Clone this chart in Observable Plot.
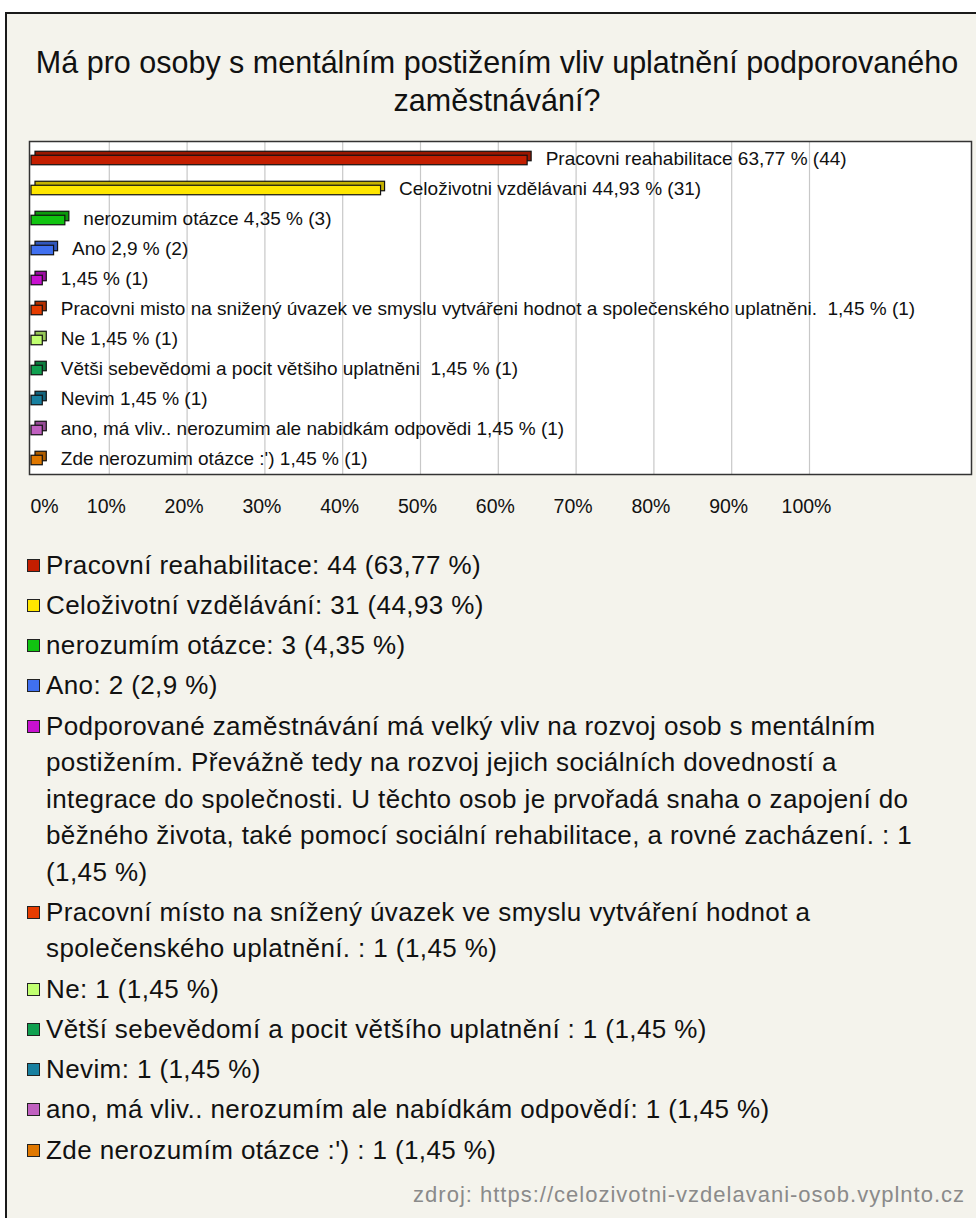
<!DOCTYPE html>
<html><head><meta charset="utf-8">
<script src="https://cdn.jsdelivr.net/npm/d3@7"></script>
<script src="https://cdn.jsdelivr.net/npm/@observablehq/plot@0.6"></script>
<style>
html,body{margin:0;padding:0;background:#fff;}
body{width:976px;height:1218px;overflow:hidden;position:relative;font-family:"Liberation Sans",Arial,sans-serif;color:#111;}
#frame{position:absolute;left:5px;top:12px;width:990px;height:1230px;border:2px solid #1a1a1a;background:#f4f3ec;box-sizing:border-box;}
#title{position:absolute;left:32px;top:43px;width:930px;text-align:center;font-size:30.5px;line-height:38px;}
#chart{position:absolute;left:0;top:130px;}
#legend{position:absolute;left:27px;top:546.5px;width:940px;}
.item{display:flex;align-items:flex-start;margin-bottom:3.75px;font-size:26px;letter-spacing:0.4px;line-height:36.5px;}
.item .tx{white-space:pre;}
.sw{width:11px;height:11px;border:1.5px solid #222;margin-top:12px;margin-right:6px;flex:none;}
#source{position:absolute;right:11px;top:1182px;font-size:22px;letter-spacing:1px;line-height:26px;color:#8a8a8a;}
</style></head>
<body>
<div id="frame"></div>
<div id="title">Má pro osoby s mentálním postižením vliv uplatnění podporovaného zaměstnávání?</div>
<div id="chart"></div>
<div id="legend"></div>
<div id="source">zdroj: https://celozivotni-vzdelavani-osob.vyplnto.cz</div>
<script>
const labels = [
  "Pracovní reahabilitace",
  "Celoživotní vzdělávání",
  "nerozumím otázce",
  "Ano",
  "Podporované zaměstnávání má velký vliv na rozvoj osob s mentálním postižením. Převážně tedy na rozvoj jejich sociálních dovedností a integrace do společnosti. U těchto osob je prvořadá snaha o zapojení do běžného života, také pomocí sociální rehabilitace, a rovné zacházení. ",
  "Pracovní místo na snížený úvazek ve smyslu vytváření hodnot a společenského uplatnění. ",
  "Ne",
  "Větší sebevědomí a pocit většího uplatnění ",
  "Nevim",
  "ano, má vliv.. nerozumím ale nabídkám odpovědí",
  "Zde nerozumím otázce :') "
];
const barLabels = [
  "Pracovni reahabilitace",
  "Celoživotni vzdělávani",
  "nerozumim otázce",
  "Ano",
  "",
  "Pracovni misto na snižený úvazek ve smyslu vytvářeni hodnot a společenského uplatněni. ",
  "Ne",
  "Větši sebevědomi a pocit většiho uplatněni ",
  "Nevim",
  "ano, má vliv.. nerozumim ale nabidkám odpovědi",
  "Zde nerozumim otázce :')"
];
const counts = [44, 31, 3, 2, 1, 1, 1, 1, 1, 1, 1];
const percents = [63.77, 44.93, 4.35, 2.9, 1.45, 1.45, 1.45, 1.45, 1.45, 1.45, 1.45];
const colors = ["#c41e00", "#ffe600", "#11c411", "#4070f0", "#c811d0", "#e63c00",
                "#c0ff70", "#10a050", "#1880a0", "#c060c0", "#e07800"];
const tickValues = [0, 10, 20, 30, 40, 50, 60, 70, 80, 90, 100];
// line breaks of the legend entries, as in the original (break after these words)
const legendBreaks = [[], [], [], [],
  ["mentálním ", "dovedností a ", "zapojení do ", ": 1 "],
  ["hodnot a "], [], [], [], [], []];

const fmt = v => String(v).replace(".", ",");
const rows = labels.map((l, i) => ({
  label: l, bar: barLabels[i], count: counts[i], pct: percents[i],
  color: colors[i], dark: d3.color(colors[i]).darker(0.7).formatHex()
}));

const font = '"Liberation Sans",Arial,sans-serif';
const chart = Plot.plot({
  width: 976, height: 400,
  marginLeft: 29, marginRight: 5, marginTop: 11, marginBottom: 56,
  x: {domain: [0, 100], range: [31, 809], label: null},
  y: {domain: labels, range: [9.75, 345.25], padding: 0, axis: null},
  color: {type: "identity"},
  style: {background: "transparent", fontFamily: font, overflow: "visible"},
  marks: [
    Plot.frame({fill: "white", stroke: null}),
    Plot.ruleX(tickValues.slice(1), {stroke: "#c8c8c8", strokeWidth: 1.2}),
    Plot.frame({stroke: "#333", strokeWidth: 1.5}),
    Plot.barX(rows, {x: "pct", y: "label", fill: "dark", stroke: "#111", strokeWidth: 1.2,
      insetTop: 12.25, insetBottom: 8.25, dx: 4, dy: -4}),
    Plot.barX(rows, {x: "pct", y: "label", fill: "color", stroke: "#111", strokeWidth: 1.2,
      insetTop: 12.25, insetBottom: 8.25}),
    Plot.text(rows, {x: "pct", y: "label", dx: 18, textAnchor: "start", fontSize: 19, fill: "#111",
      text: d => (d.bar + " " + fmt(d.pct) + " % (" + d.count + ")").trim()}),
    Plot.axisX([0], {anchor: "bottom", tickSize: 0, tickPadding: 25, fontSize: 19.5, textAnchor: "start",
      dx: -1, tickFormat: d => d + "%", fill: "#111", label: null}),
    Plot.axisX(tickValues.slice(1), {anchor: "bottom", tickSize: 0, tickPadding: 25, fontSize: 19.5,
      dx: -3, tickFormat: d => d + "%", fill: "#111", label: null})
  ]
});
document.getElementById("chart").appendChild(chart);

const legend = document.getElementById("legend");
rows.forEach((d, i) => {
  const item = document.createElement("div");
  item.className = "item";
  const sw = document.createElement("div");
  sw.className = "sw";
  sw.style.background = d.color;
  const t = document.createElement("div");
  t.className = "tx";
  let s = d.label + ": " + d.count + " (" + fmt(d.pct) + " %)";
  legendBreaks[i].forEach(w => { s = s.replace(w, w.trimEnd() + "\n"); });
  t.textContent = s;
  item.appendChild(sw);
  item.appendChild(t);
  legend.appendChild(item);
});
</script>
</body></html>
